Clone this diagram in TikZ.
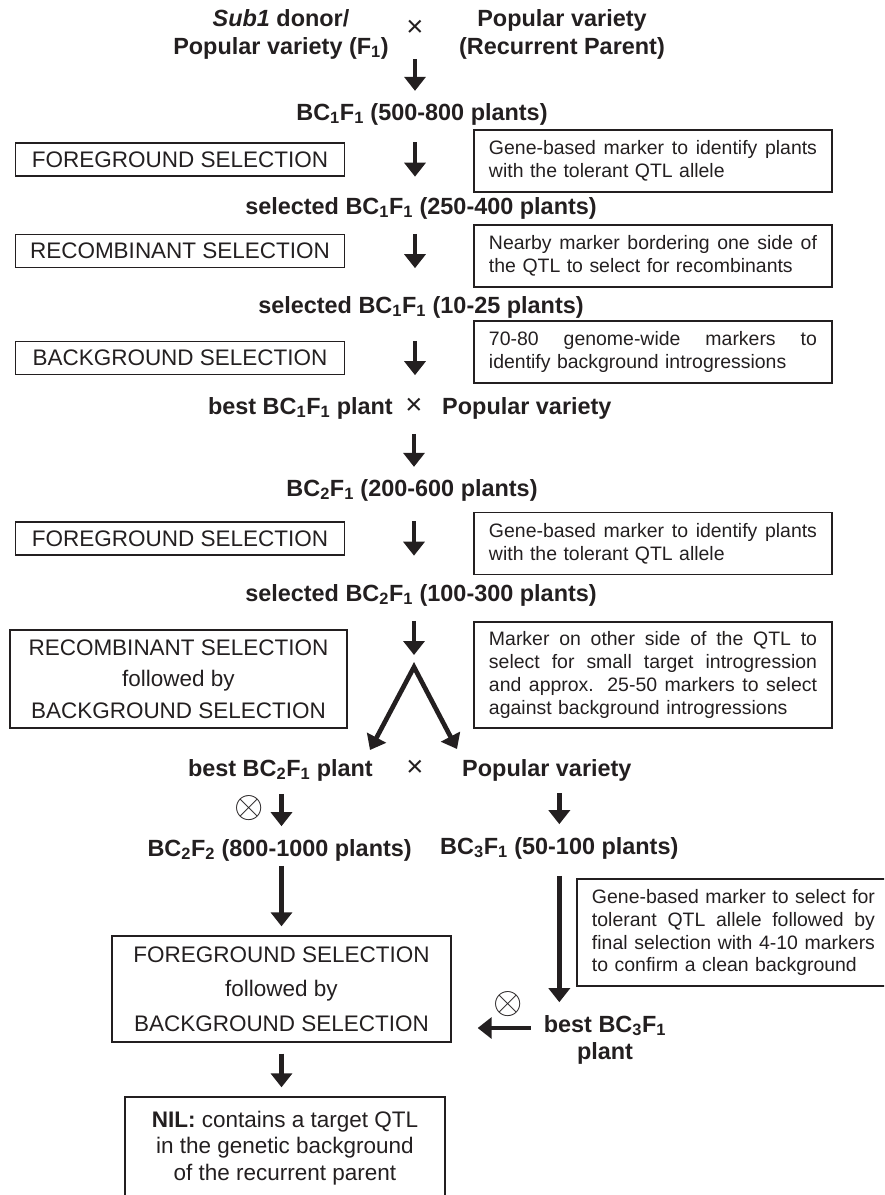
\documentclass[tikz,border=0pt]{standalone}
\usepackage{fontspec}
\setmainfont{Liberation Sans}
\usepackage{graphicx}
\usepackage{xcolor}
\usetikzlibrary{arrows.meta, positioning, calc}
\definecolor{inkblack}{RGB}{35, 31, 32}
\newcommand{\bcf}[2]{BC\textsubscript{#1}F\textsubscript{#2}}
\newcommand{\jline}[1]{{\spaceskip=0pt\xspaceskip=0pt\makebox[\hsize][s]{#1}}}
\newcommand{\selfing}{\scalebox{1.55}{$\otimes$}}
\tikzset{
  genlbl/.style={inner sep=0pt, align=center, text=inkblack,
                 font=\fontsize{20}{23.9}\selectfont\bfseries},
  selbox/.style={rectangle, draw=inkblack, line width=0.04cm, inner sep=0pt, align=center,
                 text=inkblack, minimum width=#1, minimum height=0.99cm,
                 font=\fontsize{19.2}{27}\selectfont},
  selbox/.default=9.87cm,
  notebox/.style={rectangle, draw=inkblack, line width=0.04cm, text width=#1, align=left,
                  inner xsep=0.45cm, inner ysep=0pt, minimum height=1.86cm, text=inkblack,
                  font=\fontsize{16.6}{19.6}\selectfont},
  notebox/.default=9.84cm,
  arrow/.style={-{Triangle[length=0.42cm, width=0.63cm]}, line width=0.14cm, draw=inkblack},
  twoway/.style={arrow, {Triangle[length=0.42cm, width=0.63cm]}-{Triangle[length=0.42cm, width=0.63cm]},
                 line join=miter},
  crosssym/.style={inner sep=0pt, text=inkblack, font=\fontsize{25}{25}\selectfont},
  selfsym/.style={inner sep=0pt, text=inkblack, font=\fontsize{20}{20}\selectfont},
}

\begin{document}
\begin{tikzpicture}[x=0.03cm, y=-0.03cm]
  \useasboundingbox (0,0) rectangle (884,1195);
  \clip (0,0) rectangle (884,1195);

  % parents
  \node[genlbl] (donor) at (281,34) {\textit{Sub1} donor/\\Popular variety (F\textsubscript{1})};
  \node[crosssym] (x1) at (415,28) {×};
  \node[genlbl] (recur) at (562,34) {Popular variety\\(Recurrent Parent)};
  \node[genlbl] (bc1) at (422,114) {\bcf{1}{1} (500-800 plants)};

  % first backcross generation
  \node[selbox] (fg1) at (180,159.5) {FOREGROUND SELECTION};
  \node[notebox] (gb1) at (653,161) {\jline{Gene-based marker to identify plants}\\
                                     with the tolerant QTL allele};
  \node[genlbl] (sel1) at (421,208) {selected \bcf{1}{1} (250-400 plants)};
  \node[selbox] (rc1) at (180,251) {RECOMBINANT SELECTION};
  \node[notebox] (nb1) at (653,256) {\jline{Nearby marker bordering one side of}\\
                                     the QTL to select for recombinants};
  \node[genlbl] (sel2) at (421,307) {selected \bcf{1}{1} (10-25 plants)};
  \node[selbox] (bg1) at (180,358) {BACKGROUND SELECTION};
  \node[notebox] (gw1) at (653,352) {\jline{70-80 genome-wide markers to}\\
                                     identify background introgressions};
  \node[genlbl, anchor=east] (best1) at (393,408) {best \bcf{1}{1} plant};
  \node[crosssym] (x2) at (414,406) {×};
  \node[genlbl, anchor=west] (pop2) at (442,408) {Popular variety};

  % second backcross generation
  \node[genlbl] (bc2) at (412,490) {\bcf{2}{1} (200-600 plants)};
  \node[selbox] (fg2) at (180,538.5) {FOREGROUND SELECTION};
  \node[notebox] (gb2) at (653,543.5) {\jline{Gene-based marker to identify plants}\\
                                       with the tolerant QTL allele};
  \node[genlbl] (sel3) at (421,595) {selected \bcf{2}{1} (100-300 plants)};
  \node[selbox=10.11cm, minimum height=2.94cm] (rc2) at (178.5,679)
       {RECOMBINANT SELECTION\\followed by\\BACKGROUND SELECTION};
  \node[notebox, minimum height=3.18cm] (nb2) at (653,675)
       {\jline{Marker on other side of the QTL to}\\
        \jline{select for small target introgression}\\
        \jline{and approx. 25-50 markers to select}\\
        against background introgressions};
  \coordinate (split) at (414,667);
  \coordinate (lt) at (370,750);
  \coordinate (rt) at (457,749);
  \node[genlbl, anchor=east] (best2) at (373,770) {best \bcf{2}{1} plant};
  \node[crosssym] (x3) at (415,768) {×};
  \node[genlbl, anchor=west] (pop3) at (462,770) {Popular variety};

  % selfing and third backcross
  \node[selfsym] (self1) at (249,808) {\selfing};
  \node[genlbl, anchor=east] (bc22) at (412,850) {\bcf{2}{2} (800-1000 plants)};
  \node[genlbl, anchor=west] (bc31) at (440,848) {\bcf{3}{1} (50-100 plants)};
  \node[selbox=10.17cm, minimum height=3.18cm, font=\fontsize{19.2}{29.4}\selectfont] (fgbg) at (281.5,989)
       {FOREGROUND SELECTION\\followed by\\BACKGROUND SELECTION};
  \node[notebox=8.49cm, minimum height=3.21cm] (gb3) at (733.5,932.5)
       {\jline{Gene-based marker to select for}\\
        \jline{tolerant QTL allele followed by}\\
        \jline{final selection with 4-10 markers}\\
        to confirm a clean background};
  \node[selfsym] (self2) at (508,1004) {\selfing};
  \node[genlbl, font=\fontsize{20}{23}\selectfont\bfseries] (best3) at (605,1039.5)
       {best \bcf{3}{1}\\plant};
  \node[selbox=9.6cm, minimum height=3.06cm, font=\fontsize{19.2}{22.6}\selectfont] (nil) at (285,1148)
       {\textbf{NIL:} contains a target QTL\\in the genetic background\\of the recurrent parent};

  % arrows
  \draw[arrow, shorten >=0.36cm] (donor.south -| x1) -- (bc1.north -| x1);
  \draw[arrow] (fg1.north -| x1) -- (fg1.south -| x1);
  \draw[arrow] (rc1.north -| x1) -- (rc1.south -| x1);
  \draw[arrow] (bg1.north -| x1) -- (bg1.south -| x1);
  \draw[arrow, shorten <=0.44cm, shorten >=0.36cm] (best1.south -| x2) -- (bc2.north -| x2);
  \draw[arrow] (fg2.north -| x2) -- (fg2.south -| x2);
  \draw[arrow, shorten <=0.44cm, shorten >=0.36cm] (sel3.south -| split) -- (split);
  \draw[twoway] (lt) -- (split) -- (rt);
  \draw[arrow, shorten <=0.38cm, shorten >=0.38cm] (best2.south -| fgbg) -- (bc22.north -| fgbg);
  \draw[arrow, shorten <=0.36cm, shorten >=0.38cm] (pop3.south -| bc31) -- (bc31.north);
  \draw[arrow, shorten <=0.14cm, shorten >=0.27cm] (bc22.south -| fgbg) -- (fgbg.north);
  \draw[arrow, shorten <=0.5cm, shorten >=0.38cm] (bc31.south) -- (bc31 |- best3.north);
  \draw[arrow, shorten <=0.39cm, shorten >=0.78cm] ([yshift=0.345cm]best3.west)
       -- ([yshift=0.345cm]best3.west -| fgbg.east);
  \draw[arrow, shorten <=0.33cm, shorten >=0.27cm] (fgbg.south) -- (fgbg.south |- nil.north);
\end{tikzpicture}
\end{document}
